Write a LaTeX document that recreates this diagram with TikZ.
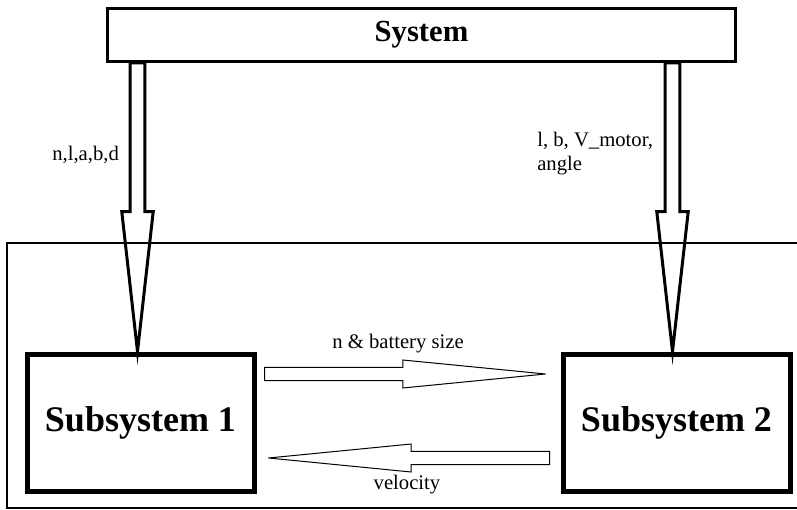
\documentclass[tikz,border=0pt]{standalone}
\usepackage{fontspec}
\setmainfont{Liberation Serif}
\usetikzlibrary{calc,positioning}
\tikzset{
  bigbox/.style={draw,line width=3.75pt,inner sep=0pt,minimum width=170.25pt,minimum height=102.75pt,
    font=\bfseries\fontsize{27}{31}\selectfont},
  topbox/.style={draw,line width=2.25pt,inner sep=0pt,minimum width=471pt,minimum height=39.75pt,
    font=\bfseries\fontsize{23}{27}\selectfont},
  lbl/.style={inner sep=0pt,font=\fontsize{15.5}{18}\selectfont},
  fat arrow/.style n args={3}{fill=white,to path={
    ($(\tikztostart)!#1!90:(\tikztotarget)$)
    -- ($(\tikztotarget)!#3!(\tikztostart)!#1!-90:(\tikztostart)$)
    -- ($(\tikztotarget)!#3!(\tikztostart)!#2!-90:(\tikztostart)$)
    -- (\tikztotarget)
    -- ($(\tikztotarget)!#3!(\tikztostart)!#2!90:(\tikztostart)$)
    -- ($(\tikztotarget)!#3!(\tikztostart)!#1!90:(\tikztostart)$)
    -- ($(\tikztostart)!#1!-90:(\tikztotarget)$)
    -- cycle}},
}
\begin{document}
\begin{tikzpicture}[x=0.75pt,y=-0.75pt]
\useasboundingbox (0,0) rectangle (797,510);
\clip (0,0) rectangle (797,510);
% outer frame
\draw[line width=1.7pt] (7,243) rectangle (830,508);
\node[topbox] (sys) at (421.5,35) {System};
\node[bigbox] (sub1) at (140.5,422.5) {Subsystem 1};
\node[bigbox] (sub2) at (676.5,422.5) {Subsystem 2};
% ends of the connectors
\coordinate (t1) at ($(sub1.north)+(-3,0)$);
\coordinate (s1) at (sys.south -| t1);
\coordinate (t2) at ($(sub2.north)+(-4,0)$);
\coordinate (s2) at (sys.south -| t2);
\coordinate (s3) at ($(sub1.east)+(8,-48.5)$);
\coordinate (t3) at ($(sub2.west)+(-15,-48.5)$);
\coordinate (s4) at ($(sub2.west)+(-11,35.5)$);
\coordinate (t4) at ($(sub1.east)+(12,35.5)$);
\draw[line width=2.25pt] (s1) to[fat arrow={5.5pt}{11.8pt}{105pt}] (t1);
\draw[line width=2.25pt] (s2) to[fat arrow={5.5pt}{11.8pt}{105pt}] (t2);
\draw[line width=0.75pt] (s3) to[fat arrow={4.9pt}{10.5pt}{107pt}] (t3);
\draw[line width=0.75pt] (s4) to[fat arrow={4.9pt}{10.5pt}{107pt}] (t4);
% labels
\node[lbl,anchor=west] (inleft) at (52,155) {n,l,a,b,d};
\node[lbl,anchor=north west,align=left] (inright) at (537,132) {l, b, V\_motor,\\angle};
\node[lbl] (fwd) at (398,344) {n \& battery size};
\node[lbl] (back) at (407,485) {velocity};
\end{tikzpicture}
\end{document}
